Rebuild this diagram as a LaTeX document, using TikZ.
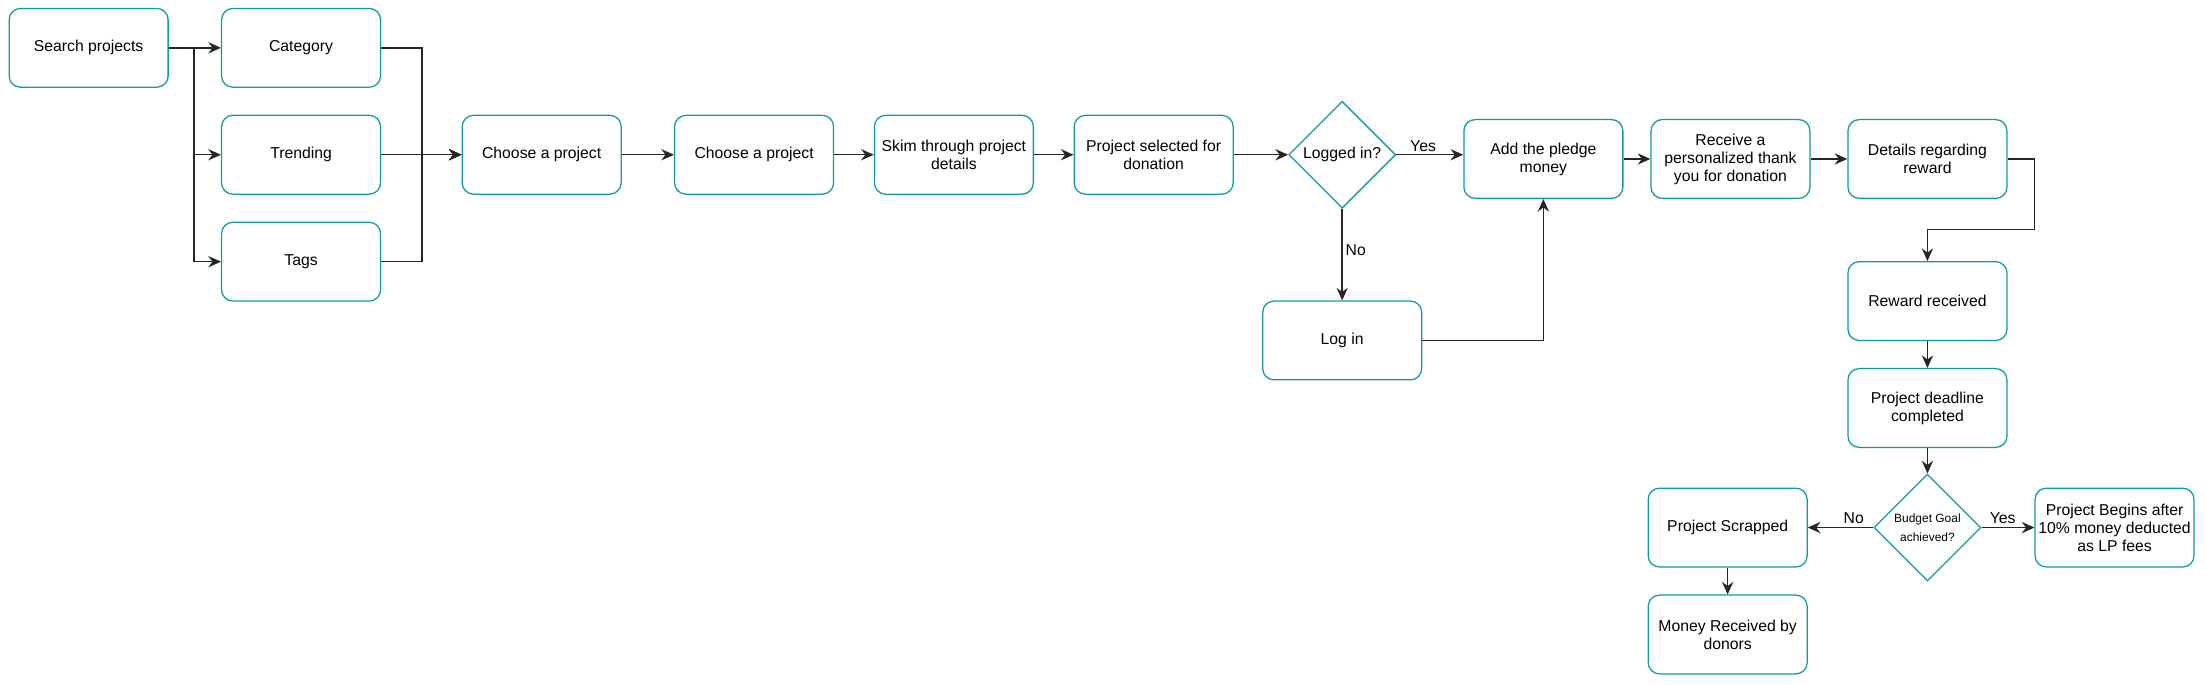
\documentclass[tikz,border=0pt]{standalone}
\usepackage{fontspec}
\setmainfont{Liberation Sans}
\usepackage{xcolor}
\usetikzlibrary{arrows.meta,shapes.geometric,positioning}
\definecolor{tealline}{RGB}{18,155,155}
\tikzset{
	box_style/.style = {shape=rectangle, rounded corners=8pt, draw=tealline, line width=0.9pt, minimum width=113pt, minimum height=56pt, inner sep=2pt, align=center, font=\fontsize{11.2}{12.8}\selectfont},
	decision_style/.style = {shape=diamond, draw=tealline, line width=0.9pt, minimum width=76pt, minimum height=76pt, inner sep=0pt, align=center, font=\fontsize{11.2}{12.8}\selectfont},
	edge_style/.style = {draw=black!85, line width=1pt, -{Stealth[length=9pt,width=8pt,inset=3pt]}}
}

\begin{document}
\begin{tikzpicture}[x=1pt, y=1pt,
	node distance=76pt,
	label_style/.style={
	    font=\fontsize{11.2}{12.8}\selectfont,
	    inner sep=2pt
	    }
	]
	\useasboundingbox (0,0) rectangle (1568,-486.2);
	    % all the nodes
		\node[box_style] (search) at (63,-34) {Search projects};
		\node[box_style, right of=search, node distance=151pt] (category) {Category};
		\node[box_style, below of=category] (trending) {Trending};
		\node[box_style, below of=trending] (tags) {Tags};
		\node[box_style, right of=trending, node distance=171pt] (choose1) {Choose a project};
		\node[box_style, right of=choose1, node distance=151pt] (choose2) {Choose a project};
		\node[box_style, right of=choose2, node distance=142pt] (skim) {Skim through project\\details};
		\node[box_style, right of=skim, node distance=142pt] (selected) {Project selected for\\donation};
		\node[decision_style, right of=selected, node distance=134pt] (logged) {Logged in?};
		\node[box_style, below of=logged, node distance=132pt] (login) {Log in};
		\node[box_style, right of=logged, node distance=143pt, yshift=-3pt] (pledge) {Add the pledge\\money};
		\node[box_style, right of=pledge, node distance=133pt] (thanks) {Receive a\\personalized thank\\you for donation};
		\node[box_style, right of=thanks, node distance=140pt] (details) {Details regarding\\reward};
		\node[box_style, below of=details, node distance=101pt] (reward) {Reward received};
		\node[box_style, below of=reward] (deadline) {Project deadline\\completed};
		\node[decision_style, below of=deadline, node distance=85pt, font=\fontsize{8.5}{13}\selectfont] (budget) {Budget Goal\\achieved?};
		\node[box_style, left of=budget, node distance=142pt] (scrapped) {Project Scrapped};
		\node[box_style, right of=budget, node distance=133pt] (begins) {Project Begins after\\10\% money deducted\\as LP fees};
		\node[box_style, below of=scrapped] (money) {Money Received by\\donors};

		% search and the three ways in
		\draw[edge_style] (search) -- (category);
		\draw[edge_style] (search.east) -- ++(18,0) |- (trending);
		\draw[edge_style] (search.east) -- ++(18,0) |- (tags);
		\draw[edge_style] (category.east) -- ++(29,0) |- (choose1);
		\draw[edge_style] (trending) -- (choose1);
		\draw[edge_style] (tags.east) -- ++(29,0) |- (choose1);

		\draw[edge_style] (choose1) -- (choose2);
		\draw[edge_style] (choose2) -- (skim);
		\draw[edge_style] (skim) -- (selected);
		\draw[edge_style] (selected) -- (logged);
		\draw[edge_style] (logged.east) -- node[label_style, above, pos=0.4] (yes1) {Yes} (logged.east -| pledge.west);
		\draw[edge_style] (logged) -- node[label_style, right, pos=0.45] (no1) {No} (login);
		\draw[edge_style] (login) -| (pledge);
		\draw[edge_style] (pledge) -- (thanks);
		\draw[edge_style] (thanks) -- (details);
		\draw[edge_style] (details.east) -- ++(19,0) -- ++(0,-50) -| (reward);
		\draw[edge_style] (reward) -- (deadline);
		\draw[edge_style] (deadline) -- (budget);
		\draw[edge_style] (budget) -- node[label_style, above, pos=0.3] (no2) {No} (scrapped);
		\draw[edge_style] (budget) -- node[label_style, above, pos=0.4] (yes2) {Yes} (begins);
		\draw[edge_style] (scrapped) -- (money);
\end{tikzpicture}
\end{document}
